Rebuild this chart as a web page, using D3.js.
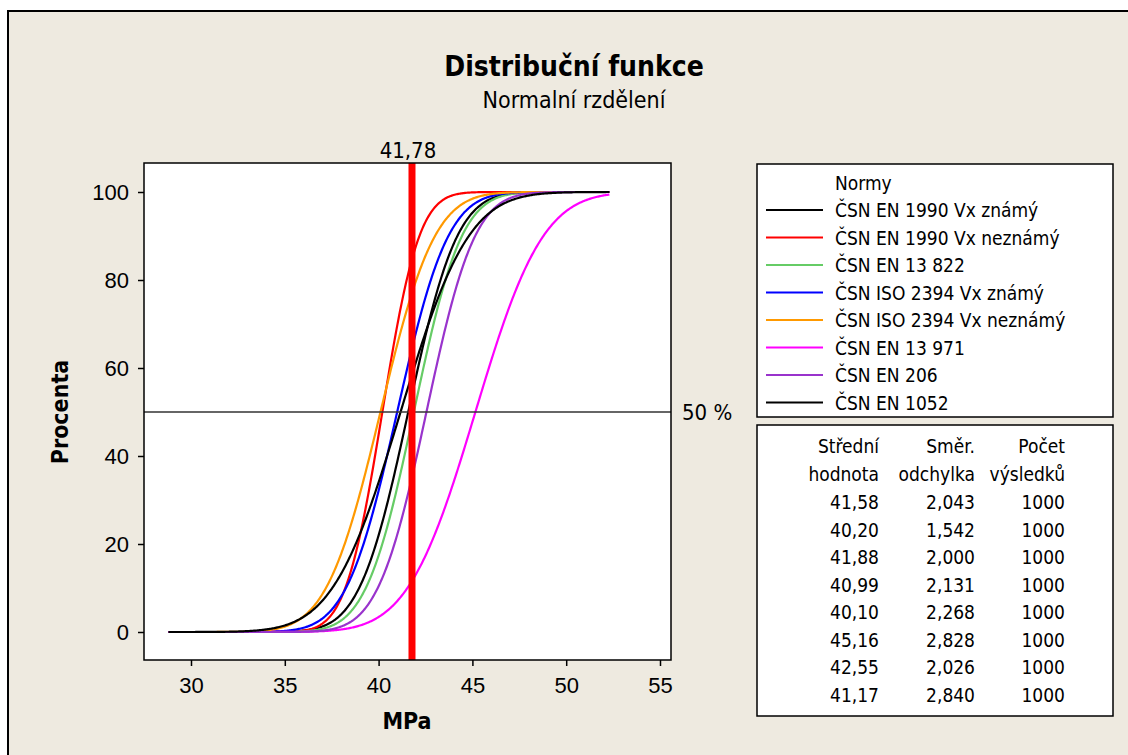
<!DOCTYPE html>
<html>
  <head>
    <meta charset="utf-8">
    <script src="https://d3js.org/d3.v7.min.js"></script>
    <title>Distribuční funkce</title>
    <style>
      body { margin: 0; background: #fff; }
      svg { display: block; font-family: "DejaVu Sans Condensed", "DejaVu Sans", sans-serif; font-stretch: condensed; }
      .tick text { font-size: 22px; fill: #000; }
      .tick line { stroke: #000; stroke-width: 1.5; }
      .domain { display: none; }
    </style>
  </head>
  <body>
    <svg id="chart" width="1128" height="755"></svg>
    <script>
      // series (legend order = table order)
      const names = [
        'ČSN EN 1990 Vx známý',
        'ČSN EN 1990 Vx neznámý',
        'ČSN EN 13 822',
        'ČSN ISO 2394 Vx známý',
        'ČSN ISO 2394 Vx neznámý',
        'ČSN EN 13 971',
        'ČSN EN 206',
        'ČSN EN 1052'
      ];
      const colors = ['#000000', '#ff0000', '#66cc66', '#0000ff', '#ff9900', '#ff00ff', '#9933cc', '#000000'];
      const means = [41.58, 40.20, 41.88, 40.99, 40.10, 45.16, 42.55, 41.17];
      const stdevs = [2.043, 1.542, 2.000, 2.131, 2.268, 2.828, 2.026, 2.840];
      const counts = [1000, 1000, 1000, 1000, 1000, 1000, 1000, 1000];
      const dataRange = [28.8, 52.3];   // min / max of the results
      const refValue = 41.78;
      const refPercent = 50;
      const xTicks = [30, 35, 40, 45, 50, 55];
      const yTicks = [0, 20, 40, 60, 80, 100];

      const cz = d3.formatLocale({ decimal: ',', thousands: '', grouping: [3], currency: ['', ''] });
      const fMean = cz.format('.2f');
      const fSd = cz.format('.3f');

      const svg = d3.select('#chart');

      // background + outer frame
      svg.append('rect')
        .attr('x', 8).attr('y', 11)
        .attr('width', 1140).attr('height', 760)
        .attr('fill', '#eeeae0')
        .attr('stroke', '#000').attr('stroke-width', 2);

      // titles
      svg.append('text')
        .attr('x', 574).attr('y', 76)
        .attr('text-anchor', 'middle')
        .style('font-size', '28px').style('font-weight', 'bold')
        .text('Distribuční funkce');
      svg.append('text')
        .attr('x', 574).attr('y', 108)
        .attr('text-anchor', 'middle')
        .style('font-size', '23px')
        .text('Normalní rzdělení');

      const frame = { left: 144, top: 163, right: 671, bottom: 660 };

      const xScale = d3.scaleLinear().domain([30, 55]).range([191, 660]);
      const yScale = d3.scaleLinear().domain([0, 100]).range([632, 192]);

      svg.append('rect')
        .attr('x', frame.left).attr('y', frame.top)
        .attr('width', frame.right - frame.left)
        .attr('height', frame.bottom - frame.top)
        .attr('fill', '#fff');

      svg.append('g')
        .attr('transform', `translate(0,${frame.bottom})`)
        .call(d3.axisBottom(xScale).tickValues(xTicks).tickSize(6).tickPadding(11));
      svg.append('g')
        .attr('transform', `translate(${frame.left},0)`)
        .call(d3.axisLeft(yScale).tickValues(yTicks).tickSize(6).tickPadding(9));

      // normal cdf from table mean / st.dev.
      const erf = x => {
        const s = Math.sign(x);
        x = Math.abs(x);
        const t = 1 / (1 + 0.3275911 * x);
        const y = 1 - (((((1.061405429 * t - 1.453152027) * t) + 1.421413741) * t - 0.284496736) * t + 0.254829592) * t * Math.exp(-x * x);
        return s * y;
      };
      const cdf = (x, m, s) => 50 * (1 + erf((x - m) / (s * Math.SQRT2)));

      const xs = d3.range(dataRange[0], dataRange[1] + 0.001, 0.05);
      const line = d3.line()
        .x(d => xScale(d[0]))
        .y(d => yScale(d[1]));

      const curves = svg.append('g');
      names.forEach((n, i) => {
        curves.append('path')
          .datum(xs.map(x => [x, cdf(x, means[i], stdevs[i])]))
          .attr('fill', 'none')
          .attr('stroke', colors[i])
          .attr('stroke-width', 2.2)
          .attr('d', line);
      });

      // 50 % reference line
      svg.append('line')
        .attr('x1', frame.left).attr('x2', frame.right)
        .attr('y1', yScale(refPercent)).attr('y2', yScale(refPercent))
        .attr('stroke', '#333').attr('stroke-width', 1.5);
      svg.append('text')
        .attr('x', frame.right + 11).attr('y', yScale(refPercent) + 8)
        .style('font-size', '22px')
        .text(refPercent + ' %');

      // reference value
      svg.append('line')
        .attr('x1', xScale(refValue)).attr('x2', xScale(refValue))
        .attr('y1', frame.top).attr('y2', frame.bottom)
        .attr('stroke', '#ff0000').attr('stroke-width', 7);
      svg.append('text')
        .attr('x', xScale(refValue) - 4).attr('y', 158)
        .attr('text-anchor', 'middle')
        .style('font-size', '22px')
        .text(cz.format('.2f')(refValue));

      svg.append('rect')
        .attr('x', frame.left).attr('y', frame.top)
        .attr('width', frame.right - frame.left)
        .attr('height', frame.bottom - frame.top)
        .attr('fill', 'none')
        .attr('stroke', '#000').attr('stroke-width', 1.5);

      // axis titles
      svg.append('text')
        .attr('transform', 'translate(68,412) rotate(-90)')
        .attr('text-anchor', 'middle')
        .style('font-size', '23px').style('font-weight', 'bold')
        .text('Procenta');
      svg.append('text')
        .attr('x', 407).attr('y', 729)
        .attr('text-anchor', 'middle')
        .style('font-size', '23px').style('font-weight', 'bold')
        .text('MPa');

      // legend
      const legend = svg.append('g');
      legend.append('rect')
        .attr('x', 757).attr('y', 164).attr('width', 356).attr('height', 253)
        .attr('fill', '#fff').attr('stroke', '#000').attr('stroke-width', 1.5);
      legend.append('text')
        .attr('x', 835).attr('y', 190)
        .style('font-size', '19px')
        .text('Normy');
      names.forEach((n, i) => {
        const y = 217 + 27.5 * i;
        legend.append('line')
          .attr('x1', 766).attr('x2', 823)
          .attr('y1', y - 7).attr('y2', y - 7)
          .attr('stroke', colors[i]).attr('stroke-width', 2);
        legend.append('text')
          .attr('x', 835).attr('y', y)
          .style('font-size', '19px')
          .text(n);
      });

      // statistics table
      const table = svg.append('g').style('font-size', '19px').attr('text-anchor', 'end');
      table.append('rect')
        .attr('x', 757).attr('y', 425).attr('width', 356).attr('height', 291)
        .attr('fill', '#fff').attr('stroke', '#000').attr('stroke-width', 1.5);
      const colX = [879, 975, 1065];
      const headers = [['Střední', 'hodnota'], ['Směr.', 'odchylka'], ['Počet', 'výsledků']];
      headers.forEach((h, c) => {
        table.append('text').attr('x', colX[c]).attr('y', 453).text(h[0]);
        table.append('text').attr('x', colX[c]).attr('y', 481).text(h[1]);
      });
      means.forEach((m, i) => {
        const y = 509 + 27.5 * i;
        table.append('text').attr('x', colX[0]).attr('y', y).text(fMean(m));
        table.append('text').attr('x', colX[1]).attr('y', y).text(fSd(stdevs[i]));
        table.append('text').attr('x', colX[2]).attr('y', y).text(counts[i]);
      });
    </script>
  </body>
</html>
